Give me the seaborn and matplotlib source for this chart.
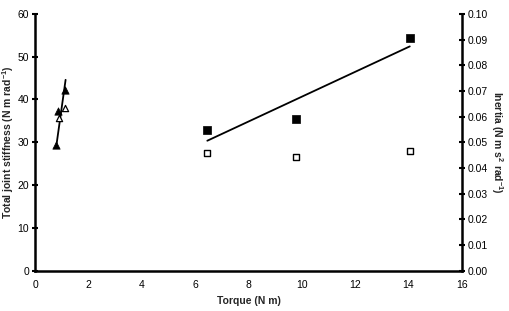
import matplotlib
matplotlib.use("Agg")
import matplotlib.pyplot as plt
import seaborn as sns
import numpy as np
import pandas as pd

sns.set_theme(style="white")
plt.rcParams['font.family'] = ['Liberation Sans', 'DejaVu Sans']
plt.rcParams['mathtext.fontset'] = 'custom'
plt.rcParams['mathtext.rm'] = 'Liberation Sans'
plt.rcParams['mathtext.bf'] = 'Liberation Sans:bold'

# Data
sq_torque = [6.45, 9.78, 14.05]
sq_stiffness = [32.9, 35.5, 54.4]
sq_inertia = [0.0457, 0.0443, 0.0465]

tri_torque = [0.78, 0.83, 1.12]
tri_stiffness = [29.3, 37.3, 42.3]
tri_inertia_torque = [0.88, 1.12]
tri_inertia = [0.0593, 0.0632]

tri_fit_torque = [0.79, 1.13]
tri_fit_stiffness = [29.5, 44.6]

xticks = list(range(0, 17, 2))
yticks = list(range(0, 61, 10))
y2ticks = [i / 100 for i in range(0, 11)]

fig = plt.figure(figsize=(5.1, 3.11), dpi=100)
ax = fig.add_axes([0.0696, 0.1302, 0.8357, 0.8248])
ax2 = ax.twinx()

sq = pd.DataFrame({"torque": sq_torque, "stiffness": sq_stiffness, "inertia": sq_inertia})
sns.regplot(data=sq, x="torque", y="stiffness", ax=ax, ci=None, truncate=True,
            marker="s", color="black",
            scatter_kws=dict(s=30, edgecolors="black", linewidths=0.5, alpha=1),
            line_kws=dict(lw=1.3))
sns.lineplot(x=tri_fit_torque, y=tri_fit_stiffness, ax=ax, color="black", lw=1.3)
sns.scatterplot(x=tri_torque, y=tri_stiffness, ax=ax, marker="^", color="black",
                s=28, edgecolor="black", linewidth=0.5, zorder=5)

sns.scatterplot(x=sq_torque, y=sq_inertia, ax=ax2, marker="s", facecolor="white",
                edgecolor="black", s=16, linewidth=1.0, zorder=5)
sns.scatterplot(x=tri_inertia_torque, y=tri_inertia, ax=ax2, marker="^", facecolor="white",
                edgecolor="black", s=20, linewidth=0.9, zorder=5)

ax.set_xlim(0, 16)
ax.set_ylim(0, 60)
ax2.set_ylim(0, 0.10)
ax.set_xticks(xticks)
ax.set_yticks(yticks)
ax2.set_yticks(y2ticks)
ax2.set_yticklabels([f"{v:.2f}" for v in y2ticks])

for a in (ax, ax2):
    a.grid(False)
    a.spines['top'].set_visible(False)
    for s in ('left', 'bottom', 'right'):
        a.spines[s].set_linewidth(1.8)
        a.spines[s].set_color('black')
    a.tick_params(direction='inout', length=5, width=1.5, colors='black', labelsize=7.5, pad=2)
ax.spines['right'].set_visible(False)
ax2.spines['left'].set_visible(False)
ax2.spines['bottom'].set_visible(False)
ax.tick_params(axis='x', pad=4)

ax.set_xlabel("Torque (N m)", fontsize=7.5, fontweight='bold', labelpad=5)
ax.set_ylabel("Total joint stiffness (N m rad$^{\\mathbf{-1}}$)", fontsize=7.5, fontweight='bold', labelpad=1)
ax2.set_ylabel("Inertia (N m s$^{\\mathbf{2}}$ rad$^{\\mathbf{-1}}$)", fontsize=7.5, fontweight='bold',
               rotation=270, labelpad=12)

fig.savefig("out.png", dpi=100, facecolor="white")
